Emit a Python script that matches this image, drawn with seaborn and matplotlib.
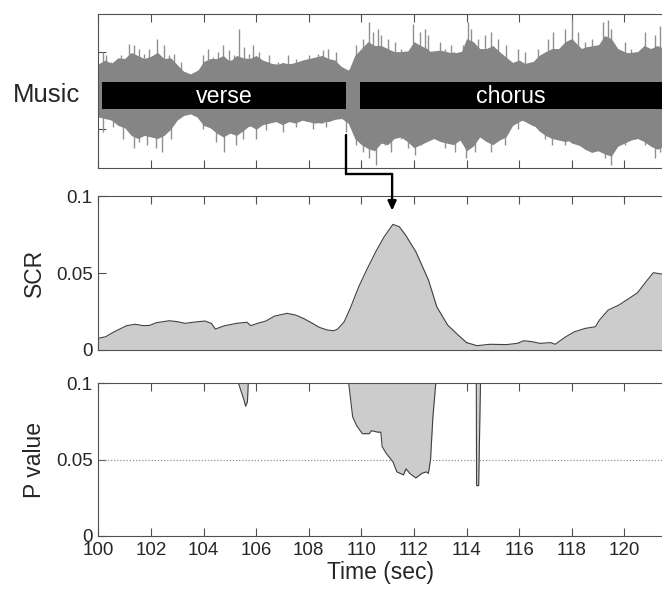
import numpy as np
import pandas as pd
import matplotlib
matplotlib.use("Agg")
import matplotlib.pyplot as plt
import seaborn as sns

# --- DATA ---
# music waveform, solid core of the trace, every 0.5 s
core_time = [100.0, 100.5, 101.0, 101.5, 102.0, 102.5, 103.0, 103.5, 104.0, 104.5,
             105.0, 105.5, 106.0, 106.5, 107.0, 107.5, 108.0, 108.5, 109.0, 109.5,
             110.0, 110.5, 111.0, 111.5, 112.0, 112.5, 113.0, 113.5, 114.0, 114.5,
             115.0, 115.5, 116.0, 116.5, 117.0, 117.5, 118.0, 118.5, 119.0, 119.5,
             120.0, 120.5, 121.0, 121.5]
core_upper = [0.23, 0.34, 0.36, 0.40, 0.40, 0.36, 0.29, 0.22, 0.31, 0.38,
              0.40, 0.40, 0.38, 0.36, 0.34, 0.36, 0.34, 0.38, 0.36, 0.27,
              0.45, 0.53, 0.51, 0.51, 0.53, 0.51, 0.53, 0.49, 0.53, 0.49,
              0.43, 0.36, 0.34, 0.38, 0.40, 0.47, 0.49, 0.57, 0.60, 0.53,
              0.49, 0.51, 0.53, 0.51]
core_lower = [-0.34, -0.38, -0.45, -0.53, -0.53, -0.45, -0.34, -0.27, -0.36, -0.45,
              -0.47, -0.47, -0.45, -0.40, -0.38, -0.36, -0.40, -0.42, -0.34, -0.34,
              -0.51, -0.60, -0.55, -0.51, -0.55, -0.60, -0.62, -0.64, -0.60, -0.55,
              -0.47, -0.34, -0.36, -0.45, -0.51, -0.55, -0.68, -0.73, -0.68, -0.64,
              -0.62, -0.51, -0.60, -0.62]

# looser fringe of the trace, every 0.25 s
fringe_time = [100.0 + 0.25 * i for i in range(87)]
fringe_upper = [0.35, 0.40, 0.36, 0.43, 0.42, 0.50, 0.46, 0.42, 0.45, 0.50,
                0.42, 0.43, 0.34, 0.25, 0.21, 0.25, 0.38, 0.42, 0.42, 0.46,
                0.38, 0.46, 0.43, 0.42, 0.46, 0.40, 0.37, 0.33, 0.37, 0.35,
                0.37, 0.40, 0.42, 0.44, 0.46, 0.42, 0.40, 0.31, 0.25, 0.46,
                0.55, 0.64, 0.59, 0.59, 0.55, 0.51, 0.46, 0.51, 0.64, 0.59,
                0.55, 0.46, 0.51, 0.46, 0.51, 0.46, 0.68, 0.64, 0.55, 0.55,
                0.59, 0.51, 0.44, 0.37, 0.40, 0.35, 0.37, 0.46, 0.51, 0.55,
                0.55, 0.64, 0.68, 0.59, 0.51, 0.55, 0.59, 0.72, 0.68, 0.55,
                0.51, 0.48, 0.51, 0.59, 0.55, 0.59, 0.55]
fringe_lower = [-0.32, -0.34, -0.38, -0.45, -0.48, -0.58, -0.62, -0.58, -0.60, -0.62,
                -0.58, -0.50, -0.38, -0.32, -0.30, -0.34, -0.45, -0.48, -0.55, -0.60,
                -0.55, -0.58, -0.52, -0.45, -0.50, -0.44, -0.42, -0.40, -0.44, -0.40,
                -0.42, -0.38, -0.40, -0.42, -0.40, -0.40, -0.37, -0.36, -0.42, -0.62,
                -0.70, -0.75, -0.78, -0.68, -0.70, -0.62, -0.60, -0.66, -0.74, -0.70,
                -0.66, -0.62, -0.66, -0.68, -0.70, -0.64, -0.78, -0.72, -0.60, -0.66,
                -0.70, -0.64, -0.60, -0.45, -0.40, -0.36, -0.42, -0.52, -0.58, -0.62,
                -0.64, -0.66, -0.64, -0.70, -0.76, -0.80, -0.78, -0.82, -0.85, -0.72,
                -0.68, -0.64, -0.62, -0.66, -0.72, -0.76, -0.72]

# single peaks sticking out of the trace
peak_up_time = [100.16, 100.29, 100.48, 100.86, 101.18, 101.37, 101.56, 101.75, 101.94, 102.25,
                102.51, 102.70, 102.89, 103.14, 103.97, 104.16, 104.35, 104.54, 104.73, 104.98,
                105.17, 105.36, 105.55, 105.74, 105.87, 106.12, 106.50, 106.82, 107.20, 107.51,
                108.02, 108.34, 108.53, 108.72, 109.04, 109.80, 110.05, 110.30, 110.43, 110.62,
                110.76, 111.02, 111.27, 111.52, 111.97, 112.22, 112.41, 112.54, 112.98, 113.17,
                113.42, 113.87, 114.06, 114.18, 114.44, 114.69, 114.94, 115.20, 115.51, 115.96,
                116.21, 116.72, 117.10, 117.29, 117.73, 117.99, 118.24, 118.49, 118.75, 119.19,
                119.38, 119.51, 120.01, 120.27, 120.77, 121.15, 121.35]
peak_up_val = [0.51, 0.46, 0.38, 0.46, 0.61, 0.59, 0.55, 0.48, 0.55, 0.68,
               0.59, 0.46, 0.48, 0.38, 0.46, 0.55, 0.44, 0.51, 0.59, 0.53,
               0.46, 0.81, 0.57, 0.48, 0.59, 0.51, 0.46, 0.38, 0.46, 0.42,
               0.46, 0.48, 0.53, 0.55, 0.51, 0.59, 0.68, 0.90, 0.77, 0.81,
               0.72, 0.68, 0.64, 0.55, 0.87, 0.77, 0.81, 0.72, 0.64, 0.55,
               0.59, 0.59, 0.90, 0.81, 0.68, 0.72, 0.77, 0.68, 0.59, 0.55,
               0.51, 0.55, 0.68, 0.77, 0.81, 0.94, 0.77, 0.64, 0.68, 0.90,
               0.92, 0.81, 0.64, 0.55, 0.77, 0.72, 0.85]
peak_down_time = [100.16, 100.54, 100.92, 101.37, 101.56, 101.87, 102.19, 102.44, 102.76, 103.97,
                  104.47, 104.79, 105.23, 105.49, 105.99, 106.37, 107.01, 107.51, 108.15, 108.66,
                  109.42, 109.80, 110.05, 110.30, 110.56, 110.89, 111.14, 111.52, 111.78, 112.03,
                  112.28, 112.54, 113.17, 113.55, 113.87, 113.99, 114.31, 114.56, 114.94, 115.45,
                  115.96, 116.97, 117.23, 117.73, 117.99, 118.49, 118.75, 119.25, 119.51, 120.01,
                  120.39, 120.77, 121.15, 121.35]
peak_down_val = [-0.54, -0.47, -0.62, -0.75, -0.67, -0.71, -0.75, -0.80, -0.62, -0.49,
                 -0.67, -0.80, -0.71, -0.62, -0.62, -0.51, -0.54, -0.47, -0.49, -0.47,
                 -0.54, -0.71, -0.80, -0.88, -0.97, -0.71, -0.80, -0.62, -0.75, -0.84,
                 -0.71, -0.62, -0.75, -0.80, -0.62, -0.88, -0.80, -0.54, -0.80, -0.71,
                 -0.49, -0.62, -0.71, -0.71, -0.62, -0.75, -0.80, -0.88, -0.97, -0.71,
                 -0.62, -0.71, -0.88, -0.80]

section_names = ["verse", "chorus"]
section_start = [100.14, 109.93]
section_end = [109.43, 121.43]

# skin conductance response
scr_time = [100.0, 100.28, 100.6, 101.08, 101.4, 101.72, 101.96, 102.2, 102.7, 103.0,
            103.3, 103.6, 104.05, 104.3, 104.45, 104.77, 105.25, 105.65, 105.8, 106.05,
            106.37, 106.7, 107.17, 107.5, 107.8, 108.1, 108.4, 108.7, 108.95, 109.1,
            109.35, 109.6, 109.9, 110.23, 110.55, 110.87, 111.2, 111.44, 111.68, 112.07,
            112.55, 112.87, 113.28, 113.68, 114.0, 114.4, 114.88, 115.52, 115.93, 116.17,
            116.49, 116.8, 117.2, 117.37, 117.77, 118.1, 118.5, 118.9, 119.05, 119.38,
            119.78, 120.18, 120.5, 120.82, 121.1, 121.43]
scr_value = [0.0076, 0.0086, 0.0118, 0.0158, 0.0167, 0.0158, 0.0160, 0.0177, 0.0190, 0.0184,
             0.0173, 0.0180, 0.0188, 0.0173, 0.0136, 0.0156, 0.0173, 0.0180, 0.0158, 0.0173,
             0.0188, 0.0220, 0.0238, 0.0227, 0.0205, 0.0177, 0.0147, 0.0130, 0.0125, 0.0136,
             0.0184, 0.0280, 0.0411, 0.0530, 0.0639, 0.0736, 0.0816, 0.0801, 0.0747, 0.0639,
             0.0455, 0.0280, 0.0162, 0.0097, 0.0048, 0.0028, 0.0037, 0.0035, 0.0043, 0.0060,
             0.0054, 0.0043, 0.0048, 0.0037, 0.0086, 0.0118, 0.0140, 0.0151, 0.0194, 0.0259,
             0.0291, 0.0335, 0.0372, 0.0443, 0.0502, 0.0493]

# p values (only the parts below 0.1 are drawn)
p_time = [100.0, 105.33, 105.54, 105.60, 105.67, 105.70, 109.52, 109.67, 109.83, 110.04,
          110.30, 110.38, 110.63, 110.74, 110.79, 110.95, 111.20, 111.35, 111.60, 111.70,
          111.84, 112.07, 112.30, 112.47, 112.55, 112.63, 112.72, 112.83, 114.37, 114.38,
          114.46, 114.53, 121.43]
p_value = [0.1, 0.1, 0.089, 0.085, 0.088, 0.1, 0.1, 0.078, 0.072, 0.067,
           0.067, 0.069, 0.068, 0.068, 0.0585, 0.054, 0.0486, 0.042, 0.040, 0.044,
           0.041, 0.038, 0.041, 0.042, 0.041, 0.050, 0.078, 0.1, 0.1, 0.033,
           0.033, 0.1, 0.1]
p_threshold = 0.05

x_ticks = [100, 102, 104, 106, 108, 110, 112, 114, 116, 118, 120]
x_min, x_max = 100, 121.43

# --- STYLE ---
sns.set_style("ticks")
plt.rcParams['font.family'] = ['Liberation Sans', 'DejaVu Sans']
spine_col = '#505050'
fill_col = '#cccccc'
edge_col = '#404040'
wave_col = '#858585'

fig = plt.figure(figsize=(6.62, 5.92), dpi=100)
ax_music = fig.add_axes([0.1485, 0.7167, 0.8515, 0.2597])
ax_scr = fig.add_axes([0.1485, 0.4088, 0.8515, 0.2601])
ax_p = fig.add_axes([0.1485, 0.0946, 0.8515, 0.2579])

for ax in [ax_music, ax_scr, ax_p]:
    ax.set_xlim(x_min, x_max)
    ax.set_xticks(x_ticks)
    ax.tick_params(direction='in', length=5.5, width=0.8, color=spine_col,
                   top=True, right=False, labelsize=13.5, pad=4)
    ax.set_axisbelow(True)
    for side in ['left', 'top', 'bottom']:
        ax.spines[side].set_color(spine_col)
        ax.spines[side].set_linewidth(0.8)
    ax.spines['right'].set_visible(False)

# --- MUSIC PANEL ---
ax_music.vlines(peak_up_time, 0, peak_up_val, color='#909090', lw=1.0, zorder=1)
ax_music.vlines(peak_down_time, peak_down_val, 0, color='#909090', lw=1.0, zorder=1)
ax_music.fill_between(fringe_time, fringe_lower, fringe_upper, color=wave_col, lw=0, zorder=2)
ax_music.fill_between(core_time, core_lower, core_upper, color=wave_col, lw=0, zorder=2)
ax_music.barh(-0.06, np.array(section_end) - np.array(section_start), left=section_start,
              height=0.36, color='black', edgecolor='none', lw=0, zorder=3)
for name, s, e in zip(section_names, section_start, section_end):
    ax_music.text((s + e) / 2, -0.154, name, color='white', fontsize=16.7,
                  ha='center', va='baseline', zorder=4)
ax_music.set_ylim(-1, 1)
ax_music.set_yticks([-0.5, 0.5])
ax_music.tick_params(labelleft=False, labelbottom=False)
ax_music.text(-0.0325, 0.4275, "Music", transform=ax_music.transAxes, fontsize=18.5,
              ha='right', va='baseline')

# arrow from the verse/chorus boundary to the SCR peak
ax_music.plot([section_end[0], section_end[0], 111.17], [-0.575, -1.08, -1.08],
              color='black', lw=1.7, clip_on=False, solid_joinstyle='miter', zorder=5)
ax_scr.annotate("", xy=(111.17, 0.0905), xytext=(111.17, 0.1143),
                annotation_clip=False,
                arrowprops=dict(arrowstyle='-|>,head_length=0.55,head_width=0.25',
                                color='black', lw=1.7, shrinkA=0, shrinkB=0))

# --- SCR PANEL ---
scr_df = pd.DataFrame({'time': scr_time, 'scr': scr_value})
ax_scr.fill_between(scr_df['time'], 0, scr_df['scr'], color=fill_col, lw=0)
sns.lineplot(data=scr_df, x='time', y='scr', ax=ax_scr, color=edge_col, lw=0.8)
ax_scr.set_ylim(0, 0.1)
ax_scr.set_yticks([0, 0.05, 0.1])
ax_scr.set_yticklabels(['0', '0.05', '0.1'])
ax_scr.tick_params(labelbottom=False)
ax_scr.set_xlabel('')
ax_scr.set_ylabel('SCR', fontsize=16.5, labelpad=7)

# --- P VALUE PANEL ---
p_df = pd.DataFrame({'time': p_time, 'p': p_value})
ax_p.axhline(p_threshold, color='#909090', lw=0.9, ls=(0, (1, 1.5)), zorder=0.8)
ax_p.fill_between(p_df['time'], p_df['p'], 0.1, color=fill_col, lw=0)
sns.lineplot(data=p_df, x='time', y='p', ax=ax_p, color=edge_col, lw=0.8)
ax_p.set_ylim(0, 0.1)
ax_p.set_yticks([0, 0.05, 0.1])
ax_p.set_yticklabels(['0', '0.05', '0.1'])
ax_p.set_xticklabels([str(v) for v in x_ticks])
ax_p.set_ylabel('P value', fontsize=16.5, labelpad=7)
ax_p.set_xlabel('Time (sec)', fontsize=16.5, labelpad=2)

fig.savefig('out.png', dpi=100)
